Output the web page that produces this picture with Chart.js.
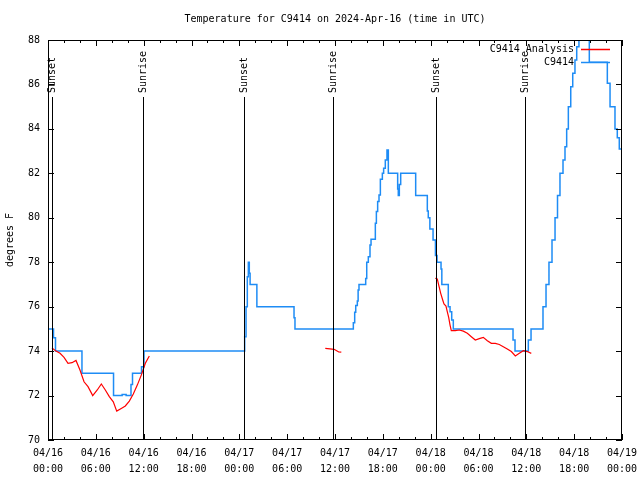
<!DOCTYPE html>
<html>
<head>
<meta charset="utf-8">
<title>Temperature for C9414</title>
<script src="https://cdn.jsdelivr.net/npm/chart.js@4.4.1/dist/chart.umd.min.js"></script>
<style>
  html, body { margin: 0; padding: 0; background: #fff; }
  #wrap { width: 640px; height: 480px; }
</style>
</head>
<body>
<div id="wrap"><canvas id="chart" width="640" height="480"></canvas></div>
<script>
// x axis = hours since 2024-04-16 00:00 UTC
const xTickDates = ['04/16', '04/16', '04/16', '04/16', '04/17', '04/17', '04/17', '04/17', '04/18', '04/18', '04/18', '04/18', '04/19'];
const xTickTimes = ['00:00', '06:00', '12:00', '18:00', '00:00', '06:00', '12:00', '18:00', '00:00', '06:00', '12:00', '18:00', '00:00'];

// sunrise / sunset markers
const sunHours = [0.55, 11.87, 24.59, 35.79, 48.67, 59.88];
const sunLabels = ['Sunset', 'Sunrise', 'Sunset', 'Sunrise', 'Sunset', 'Sunrise'];

// station observations (value holds from each hour until the next one)
const obsHours = [0, 0.69, 0.94, 4.26, 8.22, 9.3, 9.8, 10.41, 10.6, 11.73, 12.04,
  24.67, 24.84, 25.0, 25.13, 25.25, 25.35, 26.2, 30.86, 30.98,
  38.3, 38.47, 38.6, 38.8, 38.9, 39.01, 39.85, 39.98, 40.18, 40.39, 40.52, 41.06, 41.19, 41.35, 41.52,
  41.69, 41.94, 42.1, 42.31, 42.52, 42.69, 43.86, 43.94, 44.07, 44.24, 46.12, 47.58, 47.7, 47.9,
  48.3, 48.6, 48.8, 49.3, 49.4, 50.21, 50.43, 50.64, 50.84, 58.33, 58.58, 60.25, 60.59,
  62.09, 62.47, 62.84, 63.22, 63.6, 63.91, 64.22, 64.6, 64.85, 65.06, 65.27, 65.57, 65.82,
  66.1, 66.32, 66.6, 66.86, 67.36, 67.9, 70.16, 70.5, 71.12, 71.41, 71.66, 72];
const obsTemps = [75, 74.6, 74, 73, 72, 72.05, 72, 72.5, 73, 73.3, 74,
  74.65, 76, 77.35, 78, 77.5, 77, 76, 75.5, 75,
  75.28, 75.75, 76.05, 76.25, 76.75, 77, 77.27, 78, 78.25, 78.78, 79.03, 79.75, 80.28, 80.73, 81.02,
  81.73, 82, 82.23, 82.6, 83.05, 82, 81.3, 81, 81.5, 82, 81, 80.3, 80, 79.5,
  79, 78.3, 78, 77.7, 77, 76, 75.77, 75.4, 75, 74.5, 74, 74.5, 75,
  76, 77, 78, 79, 80, 81, 82, 82.6, 83.2, 84, 85, 85.9, 86.5,
  87.1, 87.7, 88.5, 89, 89.5, 87, 86.05, 85, 84, 83.6, 83.1, 83];

// analysis values (null = no analysis)
const anaHours = [0.5, 1.0, 1.51, 2.01, 2.51, 3.01, 3.51, 4.01, 4.52, 5.02, 5.61, 6.18, 6.69, 7.19, 7.69,
  8.19, 8.62, 9.19, 9.7, 10.2, 10.7, 11.2, 11.7, 12.21, 12.71,
  24,
  34.78, 35.37, 35.88, 36.21, 36.47, 36.79,
  42,
  48.58, 48.83, 49.01, 49.26, 49.51, 49.67, 49.92, 50.09, 50.26, 50.43, 50.59, 51.09, 51.59, 52.1,
  52.6, 53.1, 53.6, 54.1, 54.6, 55.11, 55.61, 56.11, 56.61, 57.11, 57.61, 58.12, 58.62, 59.12,
  59.62, 60.12, 60.62];
const anaTemps = [74.14, 74.0, 73.9, 73.72, 73.45, 73.48, 73.58, 73.15, 72.62, 72.4, 72.0, 72.25, 72.52, 72.25, 71.95,
  71.72, 71.3, 71.42, 71.53, 71.75, 72.07, 72.47, 72.92, 73.45, 73.78,
  null,
  74.12, 74.1, 74.08, 74.02, 73.96, 73.95,
  null,
  77.28, 77.25, 76.97, 76.6, 76.3, 76.12, 76.03, 75.77, 75.52, 75.17, 74.92, 74.92, 74.95, 74.9,
  74.8, 74.65, 74.5, 74.56, 74.62, 74.47, 74.35, 74.35, 74.3, 74.2, 74.1, 73.98, 73.78, 73.9,
  74.02, 73.98, 73.9];

const titleText = 'Temperature for C9414 on 2024-Apr-16 (time in UTC)';
const monoFont = '"DejaVu Sans Mono", "Liberation Mono", monospace';

Chart.defaults.font.family = monoFont;
Chart.defaults.font.size = 10;
Chart.defaults.color = '#000';

// border, inward ticks, sun markers, title and legend, gnuplot style
const gnuFrame = {
  id: 'gnuFrame',
  afterDatasetsDraw(chart) {
    const { ctx, chartArea: a, scales: { x, y } } = chart;
    ctx.save();
    ctx.strokeStyle = '#000';
    ctx.fillStyle = '#000';
    ctx.lineWidth = 1;
    ctx.font = '10px ' + monoFont;

    sunHours.forEach((h, i) => {
      const px = Math.round(x.getPixelForValue(h)) + 0.5;
      ctx.beginPath();
      ctx.moveTo(px, 97);
      ctx.lineTo(px, a.bottom);
      ctx.stroke();
      ctx.save();
      ctx.translate(px, 93);
      ctx.rotate(-Math.PI / 2);
      ctx.textAlign = 'left';
      ctx.textBaseline = 'middle';
      ctx.fillText(sunLabels[i], 0, 0);
      ctx.restore();
    });

    ctx.strokeRect(a.left + 0.5, a.top + 0.5, a.width - 1, a.height - 1);

    ctx.beginPath();
    for (let h = 0; h <= 72; h += 2) {
      const px = Math.round(x.getPixelForValue(h)) + 0.5;
      const len = h % 6 === 0 ? 6 : 3;
      ctx.moveTo(px, a.bottom); ctx.lineTo(px, a.bottom - len);
      ctx.moveTo(px, a.top); ctx.lineTo(px, a.top + len);
    }
    for (let t = 70; t <= 88; t += 2) {
      const py = Math.round(y.getPixelForValue(t)) + 0.5;
      ctx.moveTo(a.left, py); ctx.lineTo(a.left + 6, py);
      ctx.moveTo(a.right, py); ctx.lineTo(a.right - 6, py);
    }
    ctx.stroke();

    ctx.textAlign = 'center';
    ctx.textBaseline = 'middle';
    ctx.fillText(titleText, (a.left + a.right) / 2, 19);

    ctx.textAlign = 'right';
    chart.data.datasets.forEach((ds, i) => {
      const ly = 49.5 + i * 13;
      ctx.fillStyle = '#000';
      ctx.fillText(ds.label, 574, ly);
      ctx.strokeStyle = ds.borderColor;
      ctx.lineWidth = 1.5;
      ctx.beginPath();
      ctx.moveTo(581, ly);
      ctx.lineTo(610, ly);
      ctx.stroke();
    });
    ctx.restore();
  }
};

new Chart(document.getElementById('chart'), {
  type: 'line',
  data: {
    datasets: [
      {
        label: 'C9414 Analysis',
        data: anaHours.map((h, i) => ({ x: h, y: anaTemps[i] })),
        borderColor: '#ff0000',
        borderWidth: 1.2,
        pointRadius: 0,
        spanGaps: false,
        tension: 0
      },
      {
        label: 'C9414',
        data: obsHours.map((h, i) => ({ x: h, y: obsTemps[i] })),
        borderColor: '#1e8cf5',
        borderWidth: 1.5,
        pointRadius: 0,
        stepped: true
      }
    ]
  },
  options: {
    responsive: false,
    animation: false,
    events: [],
    layout: { padding: { top: 40, right: 18, bottom: 0, left: 0 } },
    plugins: {
      legend: { display: false },
      tooltip: { enabled: false },
      title: { display: false }
    },
    scales: {
      x: {
        type: 'linear',
        min: 0,
        max: 72,
        grid: { display: false, drawTicks: false },
        border: { display: false },
        afterBuildTicks: (scale) => {
          scale.ticks = xTickTimes.map((t, i) => ({ value: i * 6 }));
        },
        ticks: {
          autoSkip: false,
          maxRotation: 0,
          padding: 5,
          font: { size: 10, lineHeight: 1.6 },
          callback: (v, i) => [xTickDates[i], xTickTimes[i]]
        },
        afterFit: (scale) => {
          scale.height = 40;
          scale.paddingLeft = 0;
          scale.paddingRight = 0;
        }
      },
      y: {
        min: 70,
        max: 88,
        grid: { display: false, drawTicks: false },
        border: { display: false },
        ticks: { stepSize: 2, padding: 8, font: { size: 10 } },
        title: {
          display: true,
          text: 'degrees F',
          padding: { top: 4, bottom: 0 },
          font: { size: 10 }
        },
        afterFit: (scale) => {
          scale.width = 48;
          scale.paddingTop = 0;
          scale.paddingBottom = 0;
        }
      }
    }
  },
  plugins: [gnuFrame]
});
</script>
</body>
</html>
